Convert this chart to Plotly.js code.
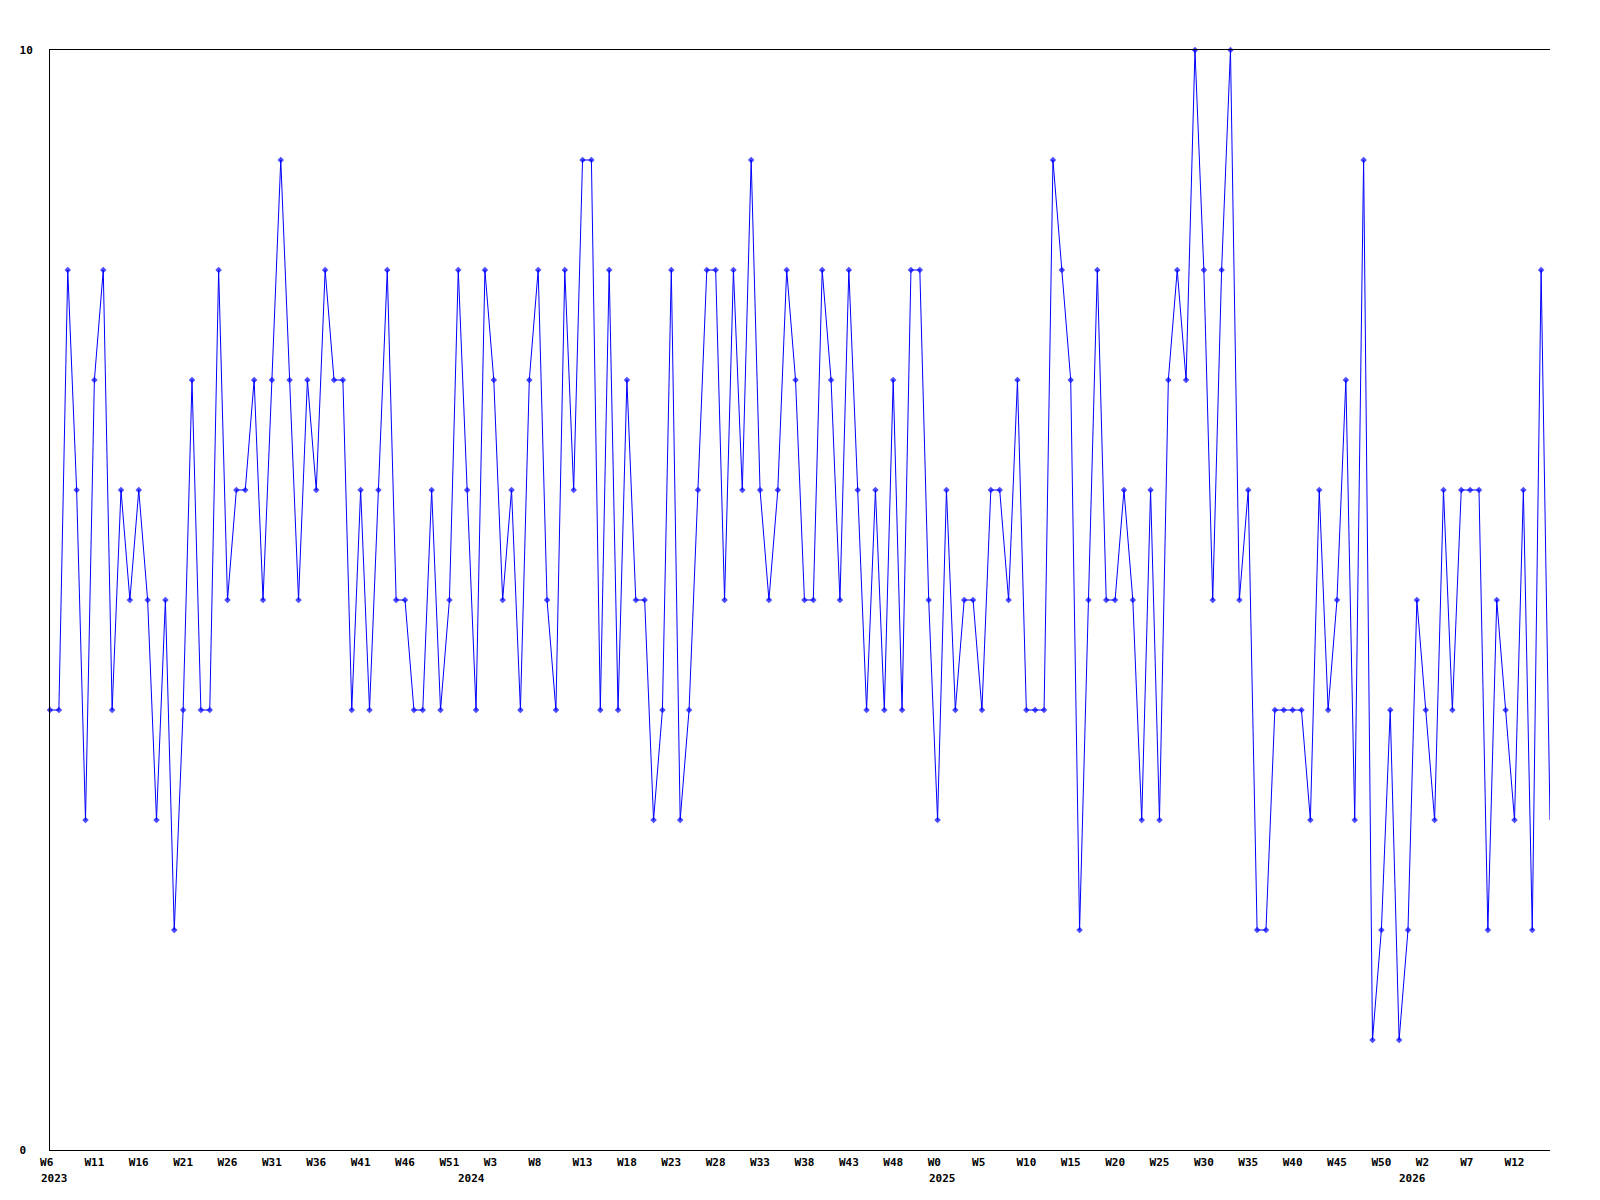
<!DOCTYPE html>
<html>
<head>
<meta charset="utf-8">
<script src="https://cdn.plot.ly/plotly-3.0.1.min.js"></script>
<style>
  html, body { margin: 0; padding: 0; background: #ffffff; }
  #chart { width: 1600px; height: 1200px; }
</style>
</head>
<body>
<div id="chart"></div>
<script>
// Weekly values, one per week, starting 2023 W6
const values = [
  4, 4, 8, 6, 3, 7, 8, 4, 6, 5,
  6, 5, 3, 5, 2, 4, 7, 4, 4, 8,
  5, 6, 6, 7, 5, 7, 9, 7, 5, 7,
  6, 8, 7, 7, 4, 6, 4, 6, 8, 5,
  5, 4, 4, 6, 4, 5, 8, 6, 4, 8,
  7, 5, 6, 4, 7, 8, 5, 4, 8, 6,
  9, 9, 4, 8, 4, 7, 5, 5, 3, 4,
  8, 3, 4, 6, 8, 8, 5, 8, 6, 9,
  6, 5, 6, 8, 7, 5, 5, 8, 7, 5,
  8, 6, 4, 6, 4, 7, 4, 8, 8, 5,
  3, 6, 4, 5, 5, 4, 6, 6, 5, 7,
  4, 4, 4, 9, 8, 7, 2, 5, 8, 5,
  5, 6, 5, 3, 6, 3, 7, 8, 7, 10,
  8, 5, 8, 10, 5, 6, 2, 2, 4, 4,
  4, 4, 3, 6, 4, 5, 7, 3, 9, 1,
  2, 4, 1, 2, 5, 4, 3, 6, 4, 6,
  6, 6, 2, 5, 4, 3, 6, 2, 8, 3
];

// Week tick labels shown every 5 weeks
const weekLabels = [
  "W6", "W11", "W16", "W21", "W26", "W31", "W36", "W41", "W46", "W51",
  "W3", "W8", "W13", "W18", "W23", "W28", "W33", "W38", "W43", "W48",
  "W0", "W5", "W10", "W15", "W20", "W25", "W30", "W35", "W40", "W45", "W50",
  "W2", "W7", "W12"
];
const labelStep = 5;

// Year labels, placed at the first week of each year (week index)
const yearTexts = ["2023", "2024", "2025", "2026"];
const yearStartWeek = [0, 47, 100, 153];

const yTickVals = [0, 10];
const yTickText = ["0", "10"];

const NBSP = "\u00a0";
const pad = (s, n) => s + NBSP.repeat(Math.max(0, n - s.length));

const xIdx = values.map((_, i) => i);
const tickVals = weekLabels.map((_, k) => k * labelStep);
const tickText = weekLabels.map(w => pad(w, 3));
const markerSizes = values.map((_, i) => (i === values.length - 1 ? 0 : 5));

const fontFamily = "DejaVu Sans Mono, Liberation Mono, monospace";
const labelFont = { family: fontFamily, size: 11, color: "#000000", weight: "bold" };

const trace = {
  type: "scatter",
  mode: "lines+markers",
  x: xIdx,
  y: values,
  line: { color: "#0000ff", width: 1 },
  marker: { color: "#0000ff", symbol: "diamond", size: markerSizes, line: { width: 0 } },
  cliponaxis: false,
  hoverinfo: "skip"
};

const annotations = yearTexts.map((t, k) => ({
  text: t,
  x: yearStartWeek[k],
  xref: "x",
  y: 0,
  yref: "paper",
  xanchor: "left",
  yanchor: "middle",
  xshift: -10,
  yshift: -28,
  showarrow: false,
  borderpad: 0,
  font: labelFont
}));

const layout = {
  width: 1600,
  height: 1200,
  margin: { l: 50, r: 50, t: 50, b: 50, pad: 0 },
  paper_bgcolor: "#ffffff",
  plot_bgcolor: "#ffffff",
  showlegend: false,
  font: { family: fontFamily, size: 11, color: "#000000" },
  annotations: annotations,
  xaxis: {
    range: [0, values.length - 1],
    tickmode: "array",
    tickvals: tickVals,
    ticktext: tickText,
    ticks: "",
    showgrid: false,
    zeroline: false,
    showline: true,
    mirror: true,
    linecolor: "#000000",
    linewidth: 1,
    tickangle: 0,
    ticklabelstandoff: 2,
    tickfont: labelFont
  },
  yaxis: {
    range: [0, 10],
    tickmode: "array",
    tickvals: yTickVals,
    ticktext: yTickText.map(t => pad(t, 2)),
    ticks: "",
    showgrid: false,
    zeroline: false,
    showline: true,
    mirror: false,
    linecolor: "#000000",
    linewidth: 1,
    ticklabelstandoff: 14,
    tickfont: labelFont
  }
};

Plotly.newPlot("chart", [trace], layout, { staticPlot: true, displayModeBar: false });
</script>
</body>
</html>
